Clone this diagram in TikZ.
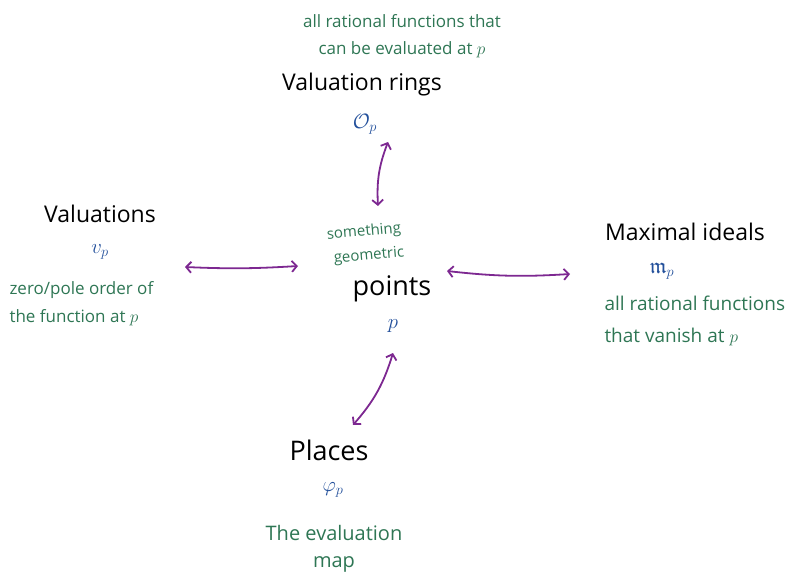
\documentclass[tikz,border=0pt]{standalone}
\usepackage{fontspec}
\usepackage{amssymb}
\setmainfont{Open Sans}
\usetikzlibrary{arrows.meta}
\definecolor{notegreen}{RGB}{46,118,84}
\definecolor{symblue}{RGB}{35,80,155}
\definecolor{linkpurple}{RGB}{125,40,145}
\tikzset{
  lbl/.style={font=\fontsize{23}{27}\selectfont, text=black},
  bigl/.style={font=\fontsize{27}{31}\selectfont, text=black},
  note/.style={font=\fontsize{17}{27}\selectfont, text=notegreen},
  sym/.style={font=\fontsize{22}{26}\selectfont, text=symblue},
  link/.style={draw=linkpurple, line width=1.8pt, {Straight Barb[length=5pt,width=11pt]}-{Straight Barb[length=5pt,width=11pt]}}
}
\begin{document}
\begin{tikzpicture}[x=1pt,y=-1pt]
\useasboundingbox (0,0) rectangle (797,577);
% top: valuation rings
\node[note, align=center] (ringnote) at (402,36) {all rational functions that\\can be evaluated at $p$};
\node[lbl] (rings) at (362,85) {Valuation rings};
\node[sym] (Op) at (365,124) {$\mathcal{O}_p$};
% left: valuations
\node[lbl] (vals) at (100,214) {Valuations};
\node[sym] (vp) at (100,252) {$v_p$};
\node[note, anchor=west, align=left, font=\fontsize{17}{28}\selectfont] (valnote) at (6,304) {zero/pole order of\\the function at $p$};
% centre: points
\node[note, rotate=5, font=\fontsize{15}{15}\selectfont] (geo1) at (364,232) {something};
\node[note, rotate=5, font=\fontsize{15}{15}\selectfont] (geo2) at (369,256) {geometric};
\node[bigl] (pts) at (392,289) {points};
\node[sym] (pp) at (393,326) {$p$};
% right: maximal ideals
\node[lbl] (maxi) at (685,232) {Maximal ideals};
\node[sym] (mp) at (662,271) {$\mathfrak{m}_p$};
\node[note, anchor=west, align=left, font=\fontsize{19}{32}\selectfont] (maxnote) at (601,321) {all rational functions\\that vanish at $p$};
% bottom: places
\node[bigl] (places) at (329,450) {Places};
\node[sym] (phip) at (333,490) {$\varphi_p$};
\node[note, align=center, font=\fontsize{20}{27}\selectfont] (evalnote) at (334,549) {The evaluation\\map};
% arrow ends
\coordinate (t1) at (388,142); \coordinate (t2) at (378,206);
\coordinate (l1) at (185,267); \coordinate (l2) at (298,266);
\coordinate (r1) at (447,271); \coordinate (r2) at (570,274);
\coordinate (b1) at (393,353); \coordinate (b2) at (353,425);
% the four links
\draw[link] (t1) to[bend right=12] (t2);
\draw[link] (l1) to[bend right=3] (l2);
\draw[link] (r1) to[bend right=5] (r2);
\draw[link] (b1) to[bend left=12] (b2);
\end{tikzpicture}
\end{document}
